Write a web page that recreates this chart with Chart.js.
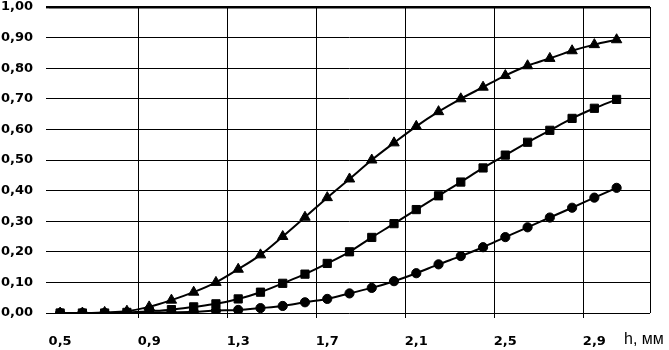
<!DOCTYPE html>
<html><head><meta charset="utf-8">
<script src="https://cdn.jsdelivr.net/npm/chart.js@4/dist/chart.umd.min.js"></script>
<style>html,body{margin:0;padding:0;background:#fff}#wrap{width:669px;height:350px;position:relative}</style>
</head><body><div id="wrap"><canvas id="c"></canvas></div>
<script>
// categories: h, mm (last slot 3.1 is empty)
const hValues = [0.5,0.6,0.7,0.8,0.9,1.0,1.1,1.2,1.3,1.4,1.5,1.6,1.7,1.8,1.9,2.0,2.1,2.2,2.3,2.4,2.5,2.6,2.7,2.8,2.9,3.0,3.1];
const seriesTriangle = [0,0,0.002,0.006,0.02,0.042,0.068,0.10,0.143,0.19,0.25,0.313,0.377,0.438,0.50,0.556,0.61,0.658,0.70,0.738,0.776,0.808,0.832,0.857,0.877,0.893];
const seriesSquare = [0,0,0,0.002,0.006,0.011,0.02,0.03,0.046,0.068,0.097,0.127,0.162,0.2,0.247,0.292,0.338,0.383,0.428,0.474,0.516,0.558,0.597,0.636,0.669,0.698];
const seriesCircle = [0,0,0,0,0.001,0.002,0.004,0.008,0.01,0.016,0.023,0.035,0.046,0.064,0.082,0.104,0.13,0.159,0.186,0.215,0.248,0.28,0.312,0.344,0.377,0.409];
const yTicks = [0,0.1,0.2,0.3,0.4,0.5,0.6,0.7,0.8,0.9,1.0];
const xAxisTitle = 'h, мм';

const fmt = (v, d) => v.toFixed(d).replace('.', ',');

const axisTitlePlugin = {
  id: 'axisTitleInline',
  afterDraw(chart) {
    const ctx = chart.ctx;
    ctx.save();
    ctx.font = '16px "Liberation Sans"';
    ctx.fillStyle = '#000';
    ctx.textAlign = 'left';
    ctx.textBaseline = 'middle';
    ctx.fillText(xAxisTitle, 624, 340);
    ctx.restore();
  }
};

const common = {borderColor:'#000', backgroundColor:'#000', pointBackgroundColor:'#000', pointBorderColor:'#000', borderWidth:2, cubicInterpolationMode:'monotone', fill:false, pointBorderWidth:1};

new Chart(document.getElementById('c'), {
  type: 'line',
  data: {
    labels: hValues,
    datasets: [
      Object.assign({label:'1', data: seriesCircle, pointStyle:'circle', pointRadius:4.6}, common),
      Object.assign({label:'2', data: seriesSquare, pointStyle:'rect', pointRadius:5.8}, common),
      Object.assign({label:'3', data: seriesTriangle, pointStyle:'triangle', pointRadius:6}, common)
    ]
  },
  options: {
    responsive: true,
    maintainAspectRatio: false,
    animation: false,
    layout: {padding: {top: 5, right: 19, left: 0, bottom: 0}},
    plugins: {legend: {display:false}, tooltip: {enabled:false}},
    scales: {
      x: {
        type: 'category',
        offset: true,
        border: {display:false},
        grid: {
          offset: true,
          lineWidth: 1,
          color: c => (c.type === 'scale' || (c.index > 0 && c.index % 4 === 0)) ? '#000' : 'rgba(0,0,0,0)',
          tickColor: c => (c.type === 'tick' && c.index > 0 && c.index % 4 === 0) ? '#000' : 'rgba(0,0,0,0)',
          tickLength: 5,
          drawTicks: true
        },
        ticks: {
          autoSkip: false, maxRotation: 0, minRotation: 0, padding: 16,
          color: '#000',
          font: {family: 'DejaVu Sans', weight: 'bold', size: 13},
          callback: function(val, i) { return (i % 4 === 0 && i < 26) ? fmt(hValues[i], 1) : ''; }
        },
        afterFit: s => { s.height = 37; s.paddingLeft = 0; s.paddingRight = 0; }
      },
      y: {
        min: 0, max: 1,
        border: {display:false},
        grid: {
          color: '#000',
          lineWidth: c => (c.tick && c.tick.value >= 0.999) ? 2.4 : 1,
          tickLength: 3,
          drawTicks: true
        },
        afterBuildTicks: s => { s.ticks = yTicks.map(v => ({value: v})); },
        ticks: {
          padding: 13,
          color: '#000',
          font: {family: 'DejaVu Sans', weight: 'bold', size: 13},
          callback: v => fmt(v, 2)
        },
        afterFit: s => { s.width = 49; s.paddingTop = 0; s.paddingBottom = 0; }
      }
    }
  },
  plugins: [axisTitlePlugin]
});
</script></body></html>
